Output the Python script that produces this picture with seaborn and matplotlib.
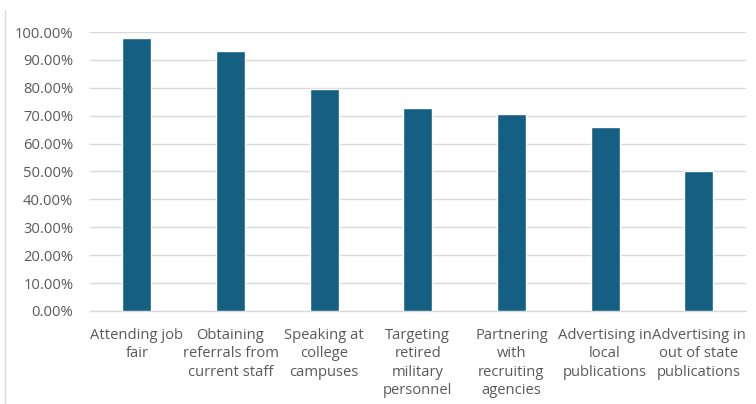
import matplotlib
matplotlib.use("Agg")
import matplotlib.pyplot as plt
from matplotlib.ticker import FuncFormatter, MultipleLocator
from matplotlib.lines import Line2D
import seaborn as sns
import pandas as pd

categories = [
    "Attending job\nfair",
    "Obtaining\nreferrals from\ncurrent staff",
    "Speaking at\ncollege\ncampuses",
    "Targeting\nretired\nmilitary\npersonnel",
    "Partnering\nwith\nrecruiting\nagencies",
    "Advertising in\nlocal\npublications",
    "Advertising in\nout of state\npublications",
]
values = [0.977, 0.932, 0.795, 0.727, 0.705, 0.659, 0.501]

sns.set_theme(style="white")
plt.rcParams['font.family'] = ['Open Sans', 'DejaVu Sans']

df = pd.DataFrame({"cat": categories, "val": values})

fig = plt.figure(figsize=(7.56, 4.04), dpi=100)
ax = fig.add_axes([90/756, 1 - 311/404, (745.5 - 90)/756, (311 - 32)/404])

sns.barplot(data=df, x="cat", y="val", color="#156082", width=0.31,
            saturation=1, ax=ax, zorder=3)

ax.set_ylim(0, 1.0)
ax.set_xlim(-0.5, len(categories) - 0.5)
ax.yaxis.set_major_locator(MultipleLocator(0.1))
ax.yaxis.set_major_formatter(FuncFormatter(lambda v, p: f"{v*100:.2f}%"))
ax.grid(axis="y", color="#d9d9d9", linewidth=1.0, zorder=0)
ax.set_axisbelow(True)
for s in ["top", "right", "left"]:
    ax.spines[s].set_visible(False)
ax.spines["bottom"].set_color("#d9d9d9")
ax.spines["bottom"].set_linewidth(1.0)

ax.set_xlabel("")
ax.set_ylabel("")
ax.tick_params(axis="both", length=0, labelsize=10.6, colors="#595959")
ax.tick_params(axis="y", pad=12)
ax.tick_params(axis="x", pad=12)
for lbl in ax.get_xticklabels():
    lbl.set_linespacing(1.32)
    lbl.set_verticalalignment("top")

fig.add_artist(Line2D([5/756, 5/756], [0, 1 - 10/404], color="#d9d9d9",
                      linewidth=1.0, transform=fig.transFigure))

fig.savefig("out.png", dpi=100, facecolor="white")
